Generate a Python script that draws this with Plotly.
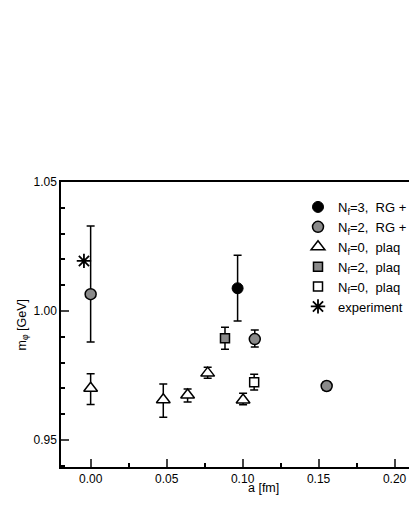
import plotly.graph_objects as go

# a [fm], m_phi [GeV], error up / down
nf3_rg_a = [0.0967]
nf3_rg_m = [1.0088]
nf3_rg_up = [0.0128]
nf3_rg_dn = [0.0127]

nf2_rg_a = [0.0, 0.108, 0.1553]
nf2_rg_m = [1.0065, 0.9891, 0.9709]
nf2_rg_up = [0.0264, 0.0035, 0.0016]
nf2_rg_dn = [0.0185, 0.0031, 0.0016]

nf0_tri_a = [0.0, 0.0478, 0.0638, 0.077, 0.1003]
nf0_tri_m = [0.9700, 0.9656, 0.9674, 0.9759, 0.9655]
nf0_tri_up = [0.0057, 0.0061, 0.0023, 0.0023, 0.0026]
nf0_tri_dn = [0.0063, 0.0068, 0.0027, 0.0020, 0.0019]

nf2_plaq_a = [0.0884]
nf2_plaq_m = [0.9894]
nf2_plaq_up = [0.0043]
nf2_plaq_dn = [0.0042]

nf0_sq_a = [0.1076]
nf0_sq_m = [0.9724]
nf0_sq_up = [0.0031]
nf0_sq_dn = [0.0030]

exp_a = [-0.0044]
exp_m = [1.0194]

# legend labels as far as they are visible in the (clipped) original
names = ["N<sub>f</sub>=3,  RG +", "N<sub>f</sub>=2,  RG +", "N<sub>f</sub>=0,  plaq",
         "N<sub>f</sub>=2,  plaq", "N<sub>f</sub>=0,  plaq", "experiment"]

GRAY = "#8a8a8a"

fig = go.Figure()


def err(up, dn):
    return dict(type="data", symmetric=False, array=up, arrayminus=dn,
                color="black", thickness=1.5, width=4)


fig.add_trace(go.Scatter(
    x=nf3_rg_a, y=nf3_rg_m, mode="markers", name=names[0], legendgroup="a",
    error_y=err(nf3_rg_up, nf3_rg_dn),
    marker=dict(symbol="circle", size=11, color="black", line=dict(color="black", width=1))
))
fig.add_trace(go.Scatter(
    x=nf2_rg_a, y=nf2_rg_m, mode="markers", name=names[1], legendgroup="b",
    error_y=err(nf2_rg_up, nf2_rg_dn),
    marker=dict(symbol="circle", size=11, color=GRAY, line=dict(color="black", width=1.5))
))
fig.add_trace(go.Scatter(
    x=nf0_tri_a, y=nf0_tri_m, mode="markers", name=names[2], legendgroup="c",
    error_y=err(nf0_tri_up, nf0_tri_dn),
    marker=dict(symbol="triangle-up", size=12, color="white", line=dict(color="black", width=1.5))
))
fig.add_trace(go.Scatter(
    x=nf2_plaq_a, y=nf2_plaq_m, mode="markers", name=names[3], legendgroup="d",
    error_y=err(nf2_plaq_up, nf2_plaq_dn),
    marker=dict(symbol="square", size=9, color=GRAY, line=dict(color="black", width=1.5))
))
fig.add_trace(go.Scatter(
    x=nf0_sq_a, y=nf0_sq_m, mode="markers", name=names[4], legendgroup="e",
    error_y=err(nf0_sq_up, nf0_sq_dn),
    marker=dict(symbol="square", size=9, color="white", line=dict(color="black", width=1.5))
))
fig.add_trace(go.Scatter(
    x=exp_a, y=exp_m, mode="markers", name=names[5], legendgroup="f",
    marker=dict(symbol="asterisk-open", size=12, color="black", line=dict(color="black", width=1.8))
))

# the original frame runs past the right edge of the window, so the figure is
# a little wider than the 409px window and its right part is cut off
fig.update_layout(
    width=425, height=529,
    margin=dict(l=61, r=0, t=182, b=62, autoexpand=False),
    plot_bgcolor="white", paper_bgcolor="white",
    font=dict(family="Liberation Sans, Arial, sans-serif", size=12, color="black"),
    showlegend=True,
    legend=dict(x=237 / 364, y=0.965, xanchor="left", yanchor="top",
                bgcolor="rgba(0,0,0,0)", font=dict(size=13), itemwidth=30,
                traceorder="grouped", tracegroupgap=0),
    xaxis=dict(range=[-0.0195, 0.22], tickvals=[0, 0.05, 0.1, 0.15, 0.2],
               tickformat=".2f", ticks="inside", ticklen=8, tickwidth=1.5,
               showline=True, linecolor="black", linewidth=1.5, mirror=True,
               showgrid=False, zeroline=False,
               minor=dict(dtick=0.025, tick0=0, ticks="inside", ticklen=4,
                          tickwidth=1.5, tickcolor="black", showgrid=False)),
    yaxis=dict(range=[0.9395, 1.05], tickvals=[0.95, 1.0, 1.05],
               tickformat=".2f", ticks="inside", ticklen=8, tickwidth=1.5,
               showline=True, linecolor="black", linewidth=1.5, mirror=False,
               showgrid=False, zeroline=False,
               minor=dict(dtick=0.01, tick0=0.95, ticks="inside", ticklen=4,
                          tickwidth=1.5, tickcolor="black", showgrid=False)),
    annotations=[
        dict(text="a [fm]", x=202 / 364, y=-30 / 285, xref="paper", yref="paper",
             showarrow=False, font=dict(size=12.5)),
        dict(text="m<sub>\u03c6</sub> [GeV]", x=0, y=0.5, xref="paper", yref="paper",
             xshift=-49, textangle=-90, showarrow=False, font=dict(size=12.5)),
    ],
)

# drop the browser's default body margin so the figure starts at the window corner
fig.write_html("out.html", config={"displayModeBar": False},
               post_script="document.body.style.margin='0';"
                           "document.body.style.overflow='hidden';")
